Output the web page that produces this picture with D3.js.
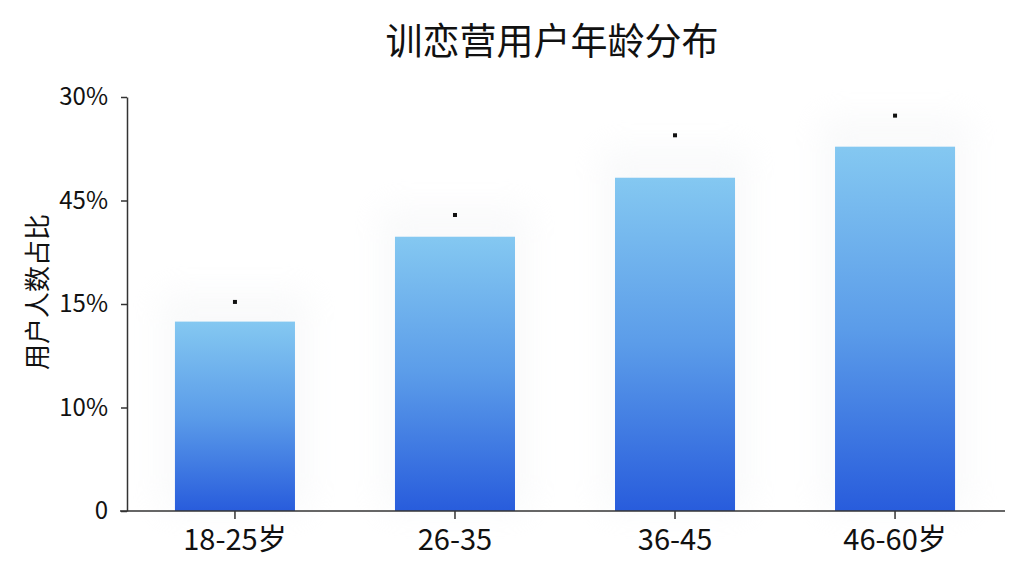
<!DOCTYPE html>
<html lang="zh">
<head>
  <meta charset="UTF-8">
  <title>训恋营用户年龄分布</title>
  <script src="https://d3js.org/d3.v7.min.js"></script>
  <style>
    body { margin: 0; background: #fff;
      font-family: "Noto Sans CJK SC", "Noto Sans", sans-serif; }
    .axis path, .axis line { stroke: #333; stroke-width: 1.5px; }
    .axis text { fill: #111; font-family: "Noto Sans CJK SC", "Noto Sans", sans-serif; }
  </style>
</head>
<body>
<svg id="svg"></svg>
<script>
// data, in axis units (each gridstep = one tick label)
const categories = ["18-25岁", "26-35", "36-45", "46-60岁"];
const values = [1.83, 2.65, 3.22, 3.52];
const markers = [2.02, 2.86, 3.63, 3.82];
const tickLabels = ["0", "10%", "15%", "45%", "30%"];

const width = 1024, height = 576;
const svg = d3.select("#svg").attr("width", width).attr("height", height);

const x = d3.scaleBand().domain(categories).range([125, 1005])
  .paddingInner(0.4545).paddingOuter(0.227);
const y = d3.scaleLinear().domain([0, tickLabels.length - 1]).range([511, 97]);

const defs = svg.append("defs");
const grad = defs.append("linearGradient").attr("id", "barGrad")
  .attr("x1", 0).attr("y1", 0).attr("x2", 0).attr("y2", 1);
grad.append("stop").attr("offset", "0%").attr("stop-color", "#84c8f1");
grad.append("stop").attr("offset", "50%").attr("stop-color", "#5b9ce9");
grad.append("stop").attr("offset", "100%").attr("stop-color", "#285cdc");

const blur = defs.append("filter").attr("id", "glow")
  .attr("x", "-30%").attr("y", "-30%").attr("width", "160%").attr("height", "160%");
blur.append("feGaussianBlur").attr("stdDeviation", 16);

// very faint glow behind bars
svg.append("g").selectAll("rect")
  .data(values)
  .join("rect")
  .attr("x", (d, i) => x(categories[i]) - 15)
  .attr("y", d => y(d) - 30)
  .attr("width", x.bandwidth() + 30)
  .attr("height", d => y(0) - y(d) + 30)
  .attr("fill", "#eef0f3")
  .attr("opacity", 0.35)
  .attr("filter", "url(#glow)");

svg.append("g").selectAll("rect")
  .data(values)
  .join("rect")
  .attr("x", (d, i) => x(categories[i]))
  .attr("y", d => y(d))
  .attr("width", x.bandwidth())
  .attr("height", d => y(0) - y(d))
  .attr("fill", "url(#barGrad)");

svg.append("g").selectAll("rect")
  .data(markers)
  .join("rect")
  .attr("x", (d, i) => x(categories[i]) + x.bandwidth() / 2 - 2)
  .attr("y", d => y(d) - 2)
  .attr("width", 4)
  .attr("height", 4)
  .attr("fill", "#111");

// y axis
const yAxis = svg.append("g").attr("class", "axis")
  .attr("transform", "translate(127,0)")
  .call(d3.axisLeft(y).ticks(4).tickSize(6).tickSizeOuter(0)
    .tickFormat((d, i) => tickLabels[d]));
yAxis.selectAll("text").attr("font-size", 24).attr("x", -19);

// x axis
const xAxis = svg.append("g").attr("class", "axis")
  .attr("transform", "translate(0,511)")
  .call(d3.axisBottom(x).tickSize(8).tickSizeOuter(0));
xAxis.select(".domain").attr("d", "M120,0H1005");
xAxis.selectAll("text").attr("font-size", 29).attr("y", 39).attr("dy", 0);

svg.append("text")
  .attr("x", 552).attr("y", 55)
  .attr("text-anchor", "middle")
  .attr("font-size", 37)
  .attr("fill", "#111")
  .text("训恋营用户年龄分布");

svg.append("text")
  .attr("transform", "translate(47,292) rotate(-90)")
  .attr("text-anchor", "middle")
  .attr("font-size", 26)
  .attr("fill", "#111")
  .text("用户人数占比");
</script>
</body>
</html>
